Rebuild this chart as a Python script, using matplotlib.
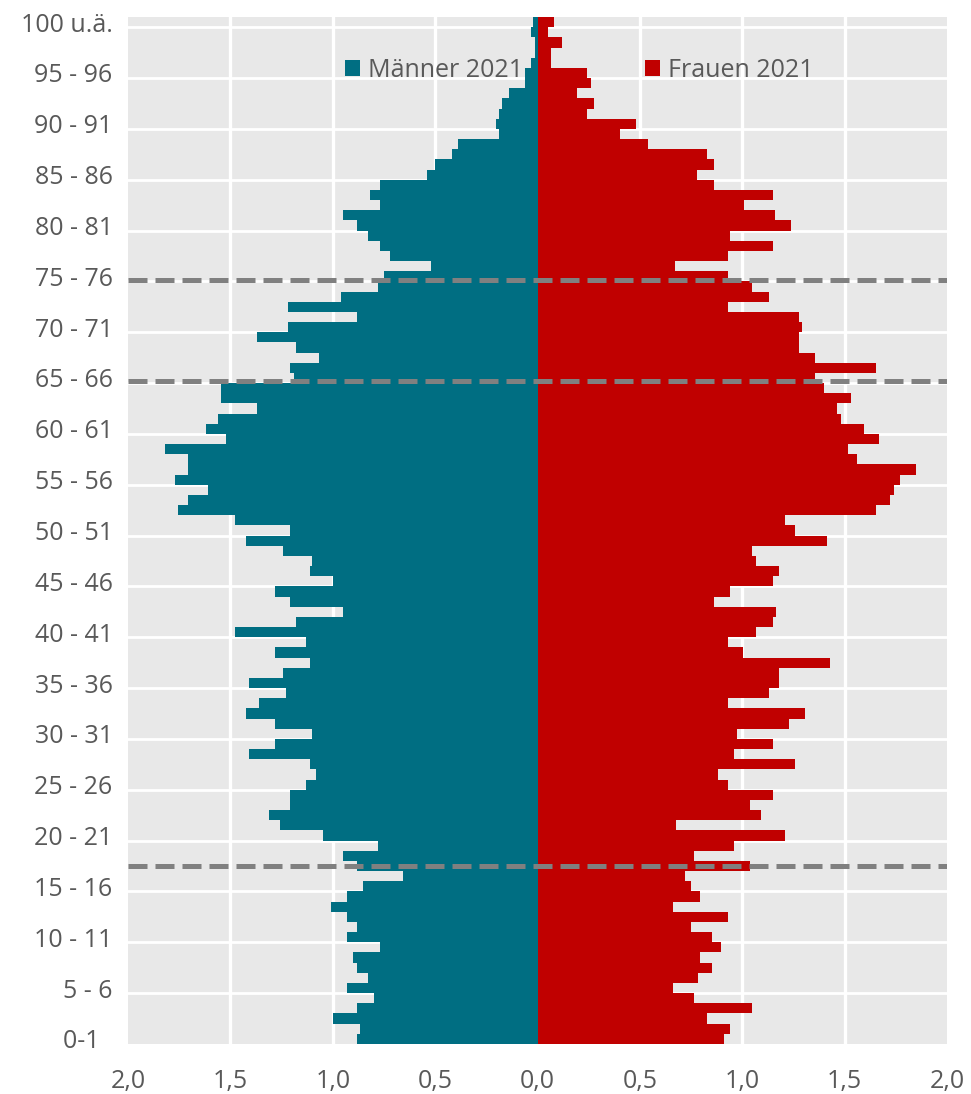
import matplotlib
matplotlib.use('Agg')
import matplotlib.pyplot as plt
import numpy as np

# share of population per year of age (in %), 2021
ages = np.arange(0, 101)
maenner = [0.88, 0.865, 1.00, 0.88, 0.80, 0.93, 0.83, 0.88, 0.90, 0.77,
           0.93, 0.88, 0.93, 1.01, 0.93, 0.85, 0.655, 0.88, 0.95, 0.78,
           1.05, 1.26, 1.31, 1.21, 1.21, 1.13, 1.08, 1.11, 1.41, 1.28,
           1.10, 1.28, 1.425, 1.36, 1.23, 1.41, 1.245, 1.11, 1.28, 1.13,
           1.475, 1.18, 0.95, 1.21, 1.28, 1.00, 1.11, 1.10, 1.245, 1.425,
           1.21, 1.475, 1.755, 1.705, 1.61, 1.77, 1.705, 1.705, 1.82, 1.52,
           1.62, 1.56, 1.37, 1.545, 1.545, 1.19, 1.21, 1.065, 1.18, 1.37,
           1.22, 0.88, 1.22, 0.96, 0.78, 0.75, 0.52, 0.72, 0.77, 0.83,
           0.88, 0.95, 0.77, 0.82, 0.77, 0.54, 0.50, 0.42, 0.39, 0.19,
           0.205, 0.19, 0.175, 0.14, 0.06, 0.06, 0.03, 0.01, 0.01, 0.03,
           0.02]
frauen = [0.91, 0.94, 0.83, 1.05, 0.765, 0.66, 0.785, 0.85, 0.795, 0.895,
          0.85, 0.75, 0.93, 0.66, 0.795, 0.75, 0.72, 1.04, 0.765, 0.96,
          1.21, 0.675, 1.09, 1.04, 1.15, 0.93, 0.88, 1.26, 0.96, 1.15,
          0.975, 1.23, 1.305, 0.93, 1.13, 1.18, 1.18, 1.43, 1.005, 0.93,
          1.065, 1.15, 1.165, 0.86, 0.94, 1.15, 1.18, 1.065, 1.05, 1.415,
          1.26, 1.21, 1.655, 1.72, 1.74, 1.77, 1.85, 1.56, 1.515, 1.67,
          1.595, 1.48, 1.465, 1.53, 1.40, 1.355, 1.655, 1.355, 1.275, 1.275,
          1.29, 1.275, 0.93, 1.13, 1.05, 0.93, 0.67, 0.93, 1.15, 0.94,
          1.24, 1.16, 1.01, 1.15, 0.86, 0.78, 0.86, 0.83, 0.54, 0.405,
          0.48, 0.24, 0.275, 0.195, 0.26, 0.24, 0.065, 0.065, 0.12, 0.05,
          0.08]

ytick_pos = np.arange(0, 101, 5)
ytick_labels = ['0-1  '] + ['%d - %d' % (a, a + 1) for a in range(5, 100, 5)] + ['100 u.ä.']
xtick_pos = np.arange(-2.0, 2.01, 0.5)
xtick_labels = ['%.1f' % abs(v) for v in xtick_pos]
xtick_labels = [s.replace('.', ',') for s in xtick_labels]

# dashed marker lines (position on the age axis)
marker_levels = [74.6, 64.7, 17.05]

teal = '#006E82'
red = '#C00000'
grey_bg = '#E8E8E8'
txt = '#595959'

plt.rcParams['font.family'] = ['Open Sans', 'DejaVu Sans']

fig = plt.figure(figsize=(9.71, 10.94), dpi=100)
ax = fig.add_axes([128/971, 1-1044/1094, 819/971, 1027/1094])
ax.set_facecolor(grey_bg)

m = ax.barh(ages, -np.array(maenner), height=1.0, color=teal, label='Männer 2021', zorder=3)
f = ax.barh(ages, frauen, height=1.0, color=red, label='Frauen 2021', zorder=3)

for v in np.arange(-1.5, 1.51, 0.5):
    ax.axvline(v, color='white', lw=2.4, zorder=1)
for v in np.arange(4.5, 100, 5):
    ax.axhline(v, color='white', lw=2.0, zorder=1)

for lvl in marker_levels:
    ax.axhline(lvl, color='#808080', lw=3.6, linestyle=(0, (3.8, 1.6)), zorder=5)

ax.set_xlim(-2, 2)
ax.set_ylim(-0.5, 100.5)
ax.set_xticks(xtick_pos)
ax.set_xticklabels(xtick_labels)
ax.set_yticks(ytick_pos)
ax.set_yticklabels(ytick_labels)
ax.tick_params(axis='both', length=0, labelsize=18, labelcolor=txt)
ax.tick_params(axis='x', pad=18)
ax.tick_params(axis='y', pad=11)
for s in ax.spines.values():
    s.set_visible(False)

leg = ax.legend(handles=[m, f], ncol=2, loc='center', bbox_to_anchor=(0.551, 0.948),
                frameon=False, fontsize=18, handlelength=0.6, handleheight=0.6,
                handletextpad=0.3, columnspacing=4.9, labelcolor=txt)

fig.savefig('out.png', dpi=100)
